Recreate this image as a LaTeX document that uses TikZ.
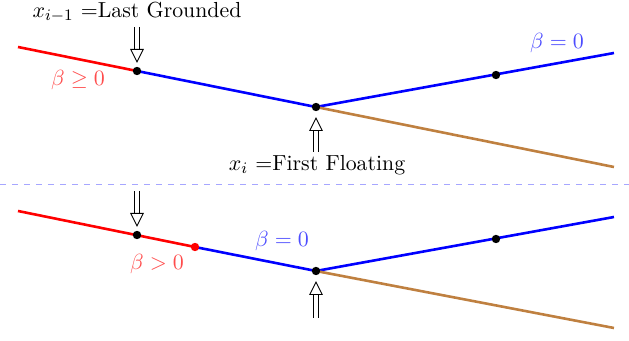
\documentclass[tikz,border=0pt]{standalone}
\usepackage{xcolor}
\usepackage{tikz}
\usetikzlibrary{arrows.meta,positioning,calc}
\tikzset{
  seg/.style={line width=1.3pt, draw=#1},
  knot/.style={circle, fill=#1, inner sep=0pt, minimum size=4.2pt},
  tag/.style={text=#1!70},
  push/.style={double, double distance=2pt, line width=0.45pt,
               -{Triangle[open, width=6.8pt, length=7pt, line width=0.45pt]}},
  every node/.style={font=\fontsize{10.9}{13}\selectfont},
}

\begin{document}
\begin{tikzpicture}[x=0.5pt, y=-0.5pt]
  \useasboundingbox (0,0) rectangle (629,341);
  % upper case
  \coordinate (a0) at (18,47);
  \coordinate (a1) at (137,71);
  \coordinate (a2) at (316,107);
  \coordinate (a3) at (496,75);
  \coordinate (a4) at (614,53);
  \coordinate (a5) at (614,167);
  \draw[seg=red] (a0) -- (a1);
  \draw[seg=blue] (a1) -- (a2) -- (a4);
  \draw[seg=brown] (a2) -- (a5);
  \node[knot=black] at (a1) {};
  \node[knot=black] at (a2) {};
  \node[knot=black] at (a3) {};
  \node[tag=red] (ageq) at (78,80) {$\beta \geq 0$};
  \node[tag=blue] (aeq) at (557,43) {$\beta = 0$};
  \node (last) at (137,12) {$x_{i-1}$ =Last Grounded};
  \node (first) at (317,165) {$x_{i}$ =First Floating};
  \coordinate (ain) at (137,27);
  \coordinate (ainend) at (137,63);
  \coordinate (aout) at (316,152);
  \coordinate (aoutend) at (316,117);
  \draw[push] (ain) -- (ainend);
  \draw[push] (aout) -- (aoutend);

  \draw[dashed, blue!35] (0,184) -- (629,184);

  % lower case
  \coordinate (b0) at (18,211);
  \coordinate (b1) at (137,235);
  \coordinate (bm) at (195,247);
  \coordinate (b2) at (316,271);
  \coordinate (b3) at (496,239);
  \coordinate (b4) at (614,217);
  \coordinate (b5) at (614,328);
  \draw[seg=red] (b0) -- (bm);
  \draw[seg=blue] (bm) -- (b2) -- (b4);
  \draw[seg=brown] (b2) -- (b5);
  \node[knot=black] at (b1) {};
  \node[knot=red] at (bm) {};
  \node[knot=black] at (b2) {};
  \node[knot=black] at (b3) {};
  \node[tag=red] (bgt) at (157,264) {$\beta > 0$};
  \node[tag=blue] (beq) at (282,241) {$\beta = 0$};
  \coordinate (bin) at (137,191);
  \coordinate (binend) at (137,227);
  \coordinate (bout) at (316,318);
  \coordinate (boutend) at (316,281);
  \draw[push] (bin) -- (binend);
  \draw[push] (bout) -- (boutend);
\end{tikzpicture}
\end{document}
